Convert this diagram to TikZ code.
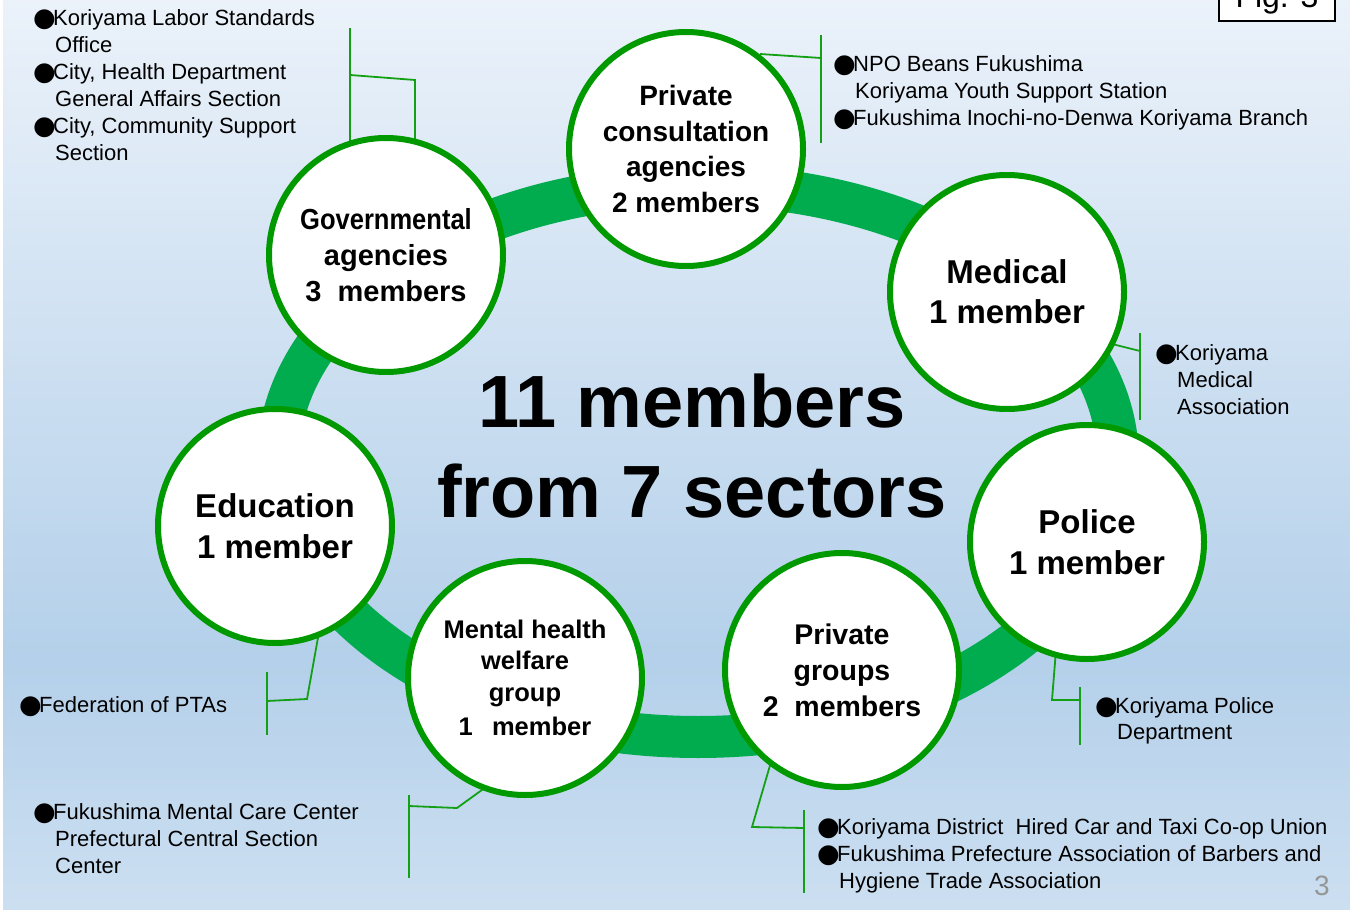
\documentclass[tikz,border=0pt]{standalone}
\usepackage{fontspec}
\usepackage{graphicx}
\setmainfont{Liberation Sans}
\newfontfamily\symfont{DejaVu Sans}
\definecolor{bgtop}{RGB}{235,242,250}
\definecolor{bgmid}{RGB}{180,208,234}
\definecolor{bgbot}{RGB}{204,223,241}
\definecolor{ringgreen}{RGB}{0,172,78}
\definecolor{rimgreen}{RGB}{0,153,0}
\definecolor{leadgreen}{RGB}{20,160,20}
\definecolor{pagegray}{RGB}{150,150,150}
% bullet of fixed width, then the item text
\newcommand\bul{\makebox[20pt][l]{\raisebox{-1.5pt}{\symfont\fontsize{26}{26}\selectfont ●}}}
\newcommand\cont{\hspace*{22pt}}
\newcommand\firstline{\rule{0pt}{20pt}}
\begin{document}
\begin{tikzpicture}[x=1pt,y=-1pt,
  member/.style={circle,draw=rimgreen,line width=6pt,fill=white,
    minimum size=234pt,inner sep=0pt,align=center,text=black},
  notes/.style={anchor=north west,inner sep=0pt,align=left,
    font=\fontsize{22}{27}\selectfont},
  leader/.style={draw=leadgreen,line width=1.8pt},
  ring/.style={draw=ringgreen,line width=42pt}]
\useasboundingbox (0,0) rectangle (1350,915);
\clip (0,0) rectangle (1350,915);
% backdrop
\fill[white] (0,0) rectangle (1350,915);
\shade[top color=bgtop,bottom color=bgmid] (3,-1) rectangle (1350,660);
\shade[top color=bgmid,bottom color=bgbot] (3,659) rectangle (1350,909);

% figure tag
\draw[line width=1.8pt,fill=white] (1219,-30) rectangle (1335,21);
\node[anchor=base,inner sep=0pt,font=\fontsize{32}{32}\selectfont] (tag) at (1277,8) {Fig. 3};

% connecting ring
\draw[ring] (698,461) ellipse [x radius=420,y radius=276];

% callout brackets and leaders (under the circles)
\draw[leader] (350,28) -- (350,150);
\draw[leader] (350,75) -- (415,80) -- (415,150);
\draw[leader] (821,35) -- (821,143);
\draw[leader] (821,58) -- (760,54);
\draw[leader] (1140,333) -- (1140,420);
\draw[leader] (1140,351) -- (1112,344);
\draw[leader] (1080,687) -- (1080,745);
\draw[leader] (1080,700) -- (1052,700) -- (1056,650);
\draw[leader] (267,672) -- (267,735);
\draw[leader] (267,701) -- (307,699) -- (319,632);
\draw[leader] (409,795) -- (409,878);
\draw[leader] (409,806) -- (457,808) -- (486,787);
\draw[leader] (804,810) -- (804,893);
\draw[leader] (804,828) -- (752,827) -- (771,762);

% sector circles
\node[member,font=\bfseries\fontsize{28}{35.5}\selectfont] (pc) at (686,149)
  {Private\\consultation\\agencies\\2 members};
\node[member,font=\bfseries\fontsize{29}{36}\selectfont] (gov) at (386,255)
  {\scalebox{0.88}[1]{Governmental}\\agencies\\3\ \ members};
\node[member,font=\bfseries\fontsize{33}{40}\selectfont] (med) at (1007,292)
  {Medical\\1 member};
\node[member,font=\bfseries\fontsize{33}{41}\selectfont] (edu) at (275,526)
  {Education\\1 member};
\node[member,font=\bfseries\fontsize{33}{41}\selectfont] (pol) at (1087,542)
  {Police\\1 member};
\node[member,font=\bfseries\fontsize{25.5}{31.5}\selectfont] (mh) at (525,678)
  {Mental health\\welfare\\group\\[3pt]1\hspace{0.75em}member};
\node[member,font=\bfseries\fontsize{28.5}{36}\selectfont] (pg) at (842,670)
  {Private\\groups\\2\ \ members};

% headline
\node[align=center,inner sep=0pt,font=\bfseries\fontsize{74}{90}\selectfont] (head) at (692,446)
  {11 members\\from 7 sectors};

% member lists
\node[notes] (govList) at (33,5)
  {\firstline\bul Koriyama Labor Standards\\
   \cont Office\\
   \bul City, Health Department\\
   \cont General Affairs Section\\
   \bul City, Community Support\\
   \cont Section};
\node[notes] (pcList) at (833,51)
  {\firstline\bul NPO Beans Fukushima\\
   \cont Koriyama Youth Support Station\\
   \bul Fukushima Inochi-no-Denwa Koriyama Branch};
\node[notes] (medList) at (1155,340)
  {\firstline\bul Koriyama\\
   \cont Medical\\
   \cont Association};
\node[notes,font=\fontsize{22}{26}\selectfont] (polList) at (1095,693)
  {\firstline\bul Koriyama Police\\
   \cont Department};
\node[notes] (eduList) at (19,692)
  {\firstline\bul Federation of PTAs};
\node[notes] (mhList) at (33,799)
  {\firstline\bul Fukushima Mental Care Center\\
   \cont Prefectural Central Section\\
   \cont Center};
\node[notes] (pgList) at (817,814)
  {\firstline\bul Koriyama District\ \ Hired Car and Taxi Co-op Union\\
   \bul Fukushima Prefecture Association of Barbers and\\
   \cont Hygiene Trade Association};

% page number
\node[anchor=base,inner sep=0pt,text=pagegray,font=\fontsize{28}{28}\selectfont] (pageno) at (1322,895) {3};
\end{tikzpicture}
\end{document}
